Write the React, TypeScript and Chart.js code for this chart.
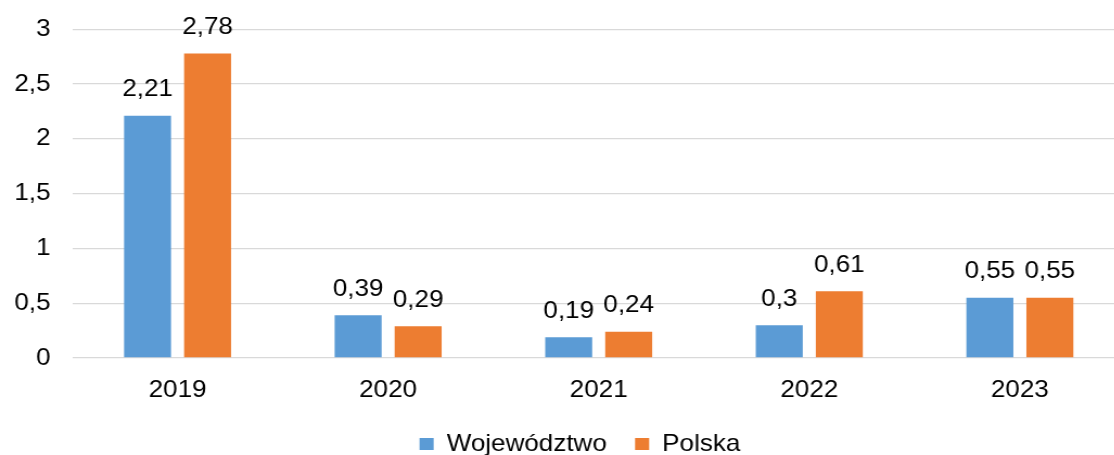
import React, { useEffect, useRef } from "react";
import { Chart, registerables } from "chart.js";

Chart.register(...registerables);

const categories = ["2019", "2020", "2021", "2022", "2023"];
const wojewodztwo = [2.21, 0.39, 0.19, 0.3, 0.55];
const polska = [2.78, 0.29, 0.24, 0.61, 0.55];
const seriesNames = ["Województwo", "Polska"];
const yTicks = [0, 0.5, 1, 1.5, 2, 2.5, 3];

const FONT = "'Liberation Sans', Arial, sans-serif";
const FS = 24;
const SX = 1.085;
const W = 1037;
const H = 466;

const fmt = (v: number) => String(v).replace(".", ",");

const dataLabels = {
  id: "dataLabels",
  afterDatasetsDraw(chart: any) {
    const ctx = chart.ctx;
    ctx.save();
    ctx.font = `${FS}px ${FONT}`;
    ctx.fillStyle = "#000";
    ctx.textAlign = "center";
    ctx.textBaseline = "middle";
    chart.data.datasets.forEach((ds: any, i: number) => {
      const meta = chart.getDatasetMeta(i);
      meta.data.forEach((bar: any, j: number) => {
        ctx.fillText(fmt(ds.data[j]), bar.x, bar.y - 26);
      });
    });
    ctx.restore();
  },
};

const legendShift = {
  id: "legendShift",
  afterLayout(chart: any) {
    const l = chart.legend;
    if (l) {
      l.left += 16;
      l.right += 16;
    }
  },
};

export default function App() {
  const ref = useRef<HTMLCanvasElement>(null);
  useEffect(() => {
    if (!ref.current) return;
    const chart = new Chart(ref.current, {
      type: "bar",
      data: {
        labels: categories,
        datasets: [
          {
            label: seriesNames[0],
            data: wojewodztwo,
            backgroundColor: "#5B9BD5",
            categoryPercentage: 0.57,
            barPercentage: 0.783,
          },
          {
            label: seriesNames[1],
            data: polska,
            backgroundColor: "#ED7D31",
            categoryPercentage: 0.57,
            barPercentage: 0.783,
          },
        ],
      },
      options: {
        responsive: false,
        animation: false,
        devicePixelRatio: 1,
        layout: { padding: { top: 29.3, left: 0, right: 0, bottom: 0 } },
        plugins: {
          tooltip: { enabled: false },
          legend: {
            position: "bottom",
            labels: {
              boxWidth: 13,
              boxHeight: 12,
              padding: 26,
              color: "#000",
              font: { family: FONT, size: FS },
            },
          },
        },
        scales: {
          x: {
            grid: { display: false, drawTicks: false },
            border: { display: false },
            ticks: {
              color: "#000",
              font: { family: FONT, size: FS },
              padding: 18,
            },
            afterFit: (s: any) => {
              s.height = 48;
            },
          },
          y: {
            position: "left",
            min: 0,
            max: 3,
            afterBuildTicks: (s: any) => {
              s.ticks = yTicks.map((v) => ({ value: v }));
            },
            grid: { color: "#D9D9D9", lineWidth: 1.3, drawTicks: false },
            border: { display: false },
            ticks: {
              color: "#000",
              font: { family: FONT, size: FS },
              padding: 20,
              crossAlign: "near",
              mirror: false,
              callback: (v: any) => fmt(Number(v)),
            },
            afterFit: (s: any) => {
              s.width = 66.6;
              s.paddingTop = 0;
              s.paddingBottom = 0;
            },
          },
        },
      },
      plugins: [dataLabels, legendShift],
    });
    return () => chart.destroy();
  }, []);

  return (
    <div
      style={{
        position: "fixed",
        left: 0,
        top: 0,
        width: W,
        height: H,
        transform: `scaleX(${SX})`,
        transformOrigin: "0 0",
      }}
    >
      <canvas ref={ref} width={W} height={H} style={{ display: "block" }} />
    </div>
  );
}
